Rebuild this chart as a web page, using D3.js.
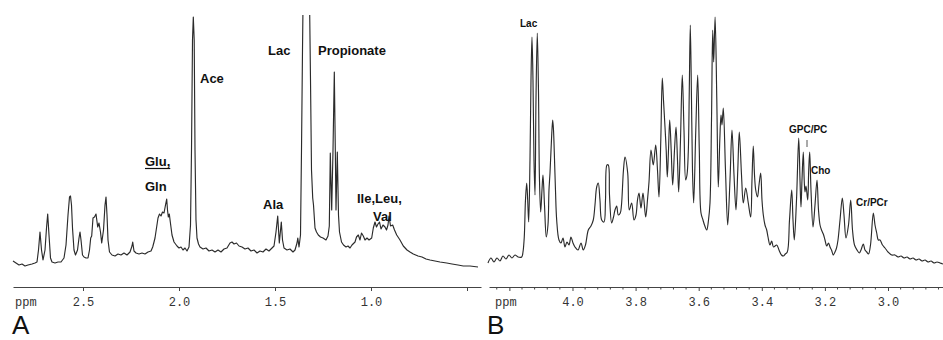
<!DOCTYPE html>
<html><head><meta charset="utf-8">
<script src="https://cdn.jsdelivr.net/npm/d3@7"></script>
<style>body{margin:0;background:#fff}svg{display:block}</style>
</head><body><svg id="c" width="943" height="340"></svg>
<script>
// ---------- Panel A spectrum (ppm, intensity) ----------
const ppmA=[2.8646,2.8490,2.8333,2.8177,2.8021,2.7865,2.7656,2.75,2.7396,2.7318,2.7240,2.7161,2.7083,2.6979,2.6901,2.6839,2.6771,2.6693,2.6615,2.6458,2.6302,2.6146,2.5990,2.5885,2.5781,2.5703,2.5651,2.5599,2.5547,2.5469,2.5391,2.5286,2.5208,2.5156,2.5104,2.5026,2.4948,2.4844,2.4740,2.4661,2.4599,2.4547,2.4479,2.4401,2.4323,2.4234,2.4167,2.4089,2.4026,2.3932,2.3854,2.3802,2.375,2.3698,2.3620,2.3490,2.3333,2.3177,2.3021,2.2865,2.2708,2.2552,2.2448,2.2411,2.2344,2.2240,2.2083,2.1927,2.1771,2.1615,2.1458,2.1370,2.1302,2.125,2.1172,2.1094,2.1016,2.0938,2.0859,2.0781,2.0703,2.0641,2.0599,2.0557,2.0505,2.0453,2.0365,2.0260,2.0104,2.0,1.9896,1.9792,1.9688,1.9583,1.9479,1.9401,1.9349,1.9297,1.9255,1.9208,1.9167,1.9115,1.9063,1.8984,1.8906,1.875,1.8594,1.8438,1.8281,1.8125,1.7969,1.7813,1.7656,1.75,1.7344,1.7240,1.7135,1.7005,1.6875,1.6719,1.6563,1.6406,1.625,1.6094,1.5938,1.5781,1.5625,1.5469,1.5313,1.5156,1.5052,1.4948,1.4859,1.4776,1.4672,1.4609,1.4531,1.4375,1.4219,1.4063,1.3958,1.3854,1.3813,1.375,1.3672,1.3620,1.3568,1.3526,1.3370,1.3214,1.3151,1.3099,1.3036,1.2995,1.2917,1.2839,1.2745,1.2630,1.25,1.2344,1.2240,1.2172,1.2120,1.2047,1.1979,1.1911,1.1859,1.1823,1.1755,1.1693,1.1641,1.1536,1.1432,1.1302,1.1198,1.1094,1.0990,1.0833,1.0755,1.0661,1.0573,1.0495,1.0401,1.0313,1.0208,1.0104,0.9964,0.9880,0.9792,0.9714,0.9635,0.9557,0.9479,0.9375,0.9271,0.9193,0.9115,0.9063,0.8984,0.8870,0.8776,0.8661,0.8490,0.8318,0.8125,0.7969,0.7797,0.7552,0.7344,0.7135,0.6927,0.6667,0.6406,0.6057,0.5781,0.5469,0.5193,0.4844,0.4427];
const intA=[26,24,22,23,21,22,23,24,25,37,55,37,27,37,59,73,52,29,25,24,25,25,29,42,72,90,91,82,59,37,32,37,49,55,47,32,30,29,29,37,49,51,69,70,73,60,64,55,44,57,82,90,72,47,35,32,31,33,32,34,32,35,41,45,36,34,33,34,33,35,36,40,45,49,59,69,73,71,75,74,82,88,77,70,73,65,52,45,41,39,40,37,39,36,40,62,137,247,270,247,137,67,49,43,40,38,39,36,37,35,37,35,38,39,44,45,43,44,41,40,38,39,36,37,34,36,35,38,36,39,41,55,71,44,65,47,39,37,38,35,37,44,49,40,52,137,237,307,282,307,207,117,89,82,59,55,52,50,49,47,51,61,134,77,137,215,137,77,135,72,55,45,42,40,41,39,42,45,50,52,47,54,51,47,49,47,49,59,65,60,63,65,58,62,60,57,62,71,61,62,57,52,47,41,37,35,33,31,30,28,27,26,25,24,23,22,21,21,20];

// ---------- Panel B spectrum (ppm, intensity) ----------
const ppmB=[4.2678,4.2583,4.2488,4.2393,4.2298,4.2203,4.2108,4.2013,4.1918,4.1822,4.1727,4.1610,4.1569,4.1528,4.1490,4.1452,4.1420,4.1388,4.1347,4.1315,4.1284,4.1252,4.1220,4.1188,4.1157,4.1116,4.1078,4.1046,4.1008,4.0967,4.0935,4.0887,4.0830,4.0777,4.0745,4.0713,4.0666,4.0628,4.0602,4.0577,4.0539,4.0501,4.0428,4.0365,4.0301,4.0238,4.0174,4.0111,4.0048,3.9984,3.9921,3.9826,3.9731,3.9658,3.9588,3.9499,3.9414,3.9341,3.9287,3.9233,3.9183,3.9129,3.9075,3.9002,3.8954,3.8907,3.8865,3.8827,3.8758,3.8700,3.8653,3.8599,3.8548,3.8485,3.8447,3.8384,3.8336,3.8250,3.8200,3.8124,3.8051,3.7987,3.7940,3.7892,3.7829,3.7765,3.7680,3.7623,3.7575,3.7512,3.7439,3.7363,3.7306,3.7258,3.7201,3.7154,3.7116,3.7068,3.7030,3.6995,3.6957,3.6919,3.6872,3.6824,3.6767,3.6719,3.6672,3.6634,3.6577,3.6520,3.6466,3.6412,3.6371,3.6330,3.6298,3.6266,3.6228,3.6197,3.6159,3.6092,3.6032,3.5981,3.5927,3.5864,3.5816,3.5746,3.5689,3.5642,3.5594,3.5556,3.5525,3.5480,3.5426,3.5379,3.5331,3.5293,3.5262,3.5220,3.5151,3.5081,3.5008,3.4945,3.4881,3.4818,3.4761,3.4713,3.4643,3.4586,3.4510,3.4428,3.4352,3.4311,3.4270,3.4231,3.4193,3.4136,3.4089,3.4035,3.3994,3.3952,3.3899,3.3845,3.3803,3.3740,3.3686,3.3629,3.3528,3.3455,3.3376,3.3319,3.3255,3.3192,3.3122,3.3052,3.3011,3.2970,3.2900,3.2830,3.2789,3.2758,3.2726,3.2685,3.2656,3.2631,3.2599,3.2545,3.2513,3.2482,3.2441,3.2377,3.2314,3.2250,3.2203,3.2155,3.2108,3.2051,3.1997,3.1943,3.1886,3.1838,3.1791,3.1734,3.1680,3.1632,3.1585,3.1521,3.1448,3.1395,3.1331,3.1252,3.1182,3.1125,3.1062,3.0983,3.0910,3.0856,3.0783,3.0729,3.0675,3.0618,3.0555,3.0466,3.0412,3.0358,3.0308,3.0254,3.0174,3.0095,3.0,2.9883,2.9778,2.9683,2.9588,2.9493,2.9398,2.9303,2.9208,2.9113,2.9017,2.8922,2.8827,2.8732,2.8637,2.8542,2.8447,2.8352,2.8257];
const intB=[24,29,25,29,26,31,28,32,29,32,30,30,35,50,87,104,87,65,127,207,250,207,127,92,187,254,197,107,75,97,112,82,50,62,97,114,147,167,157,135,97,67,47,44,49,40,45,42,50,44,40,37,44,37,42,57,61,67,82,100,104,87,67,65,87,122,122,92,64,70,77,81,72,74,82,117,130,114,77,84,67,72,87,94,79,94,70,87,105,137,122,142,117,90,147,209,187,160,137,110,137,167,137,102,137,160,127,95,147,212,157,107,112,135,197,262,187,117,84,157,212,137,74,67,62,57,67,84,167,257,225,270,187,100,147,172,162,179,117,62,107,157,112,77,117,155,112,84,99,84,70,107,141,112,97,90,102,114,87,72,62,57,50,42,46,40,42,37,32,31,33,35,67,97,67,47,87,149,107,80,107,135,107,95,101,87,117,135,97,60,82,107,77,62,57,53,47,41,44,40,37,32,35,39,47,67,89,72,49,62,87,57,42,37,34,37,43,37,35,33,42,74,62,54,47,47,42,39,35,32,32,30,31,29,30,28,29,27,28,26,27,25,26,24,25,24,23];

// ---------- Axis ticks ----------
const ticksA=[2.5,2.0,1.5,1.0,0.5];
const tickLabelsA=["2.5","2.0","1.5","1.0",""];
const ticksB=[4.2,4.0,3.8,3.6,3.4,3.2,3.0];
const tickLabelsB=["","4.0","3.8","3.6","3.4","3.2","3.0"];
const minorStepB=0.04;

// ---------- Peak annotations ----------
const annotTextA=["Ace","Glu,","Gln","Lac","Propionate","Ala","Ile,Leu,","Val"];
const annotPpmA=[1.8906,2.1771,2.1771,1.5365,1.2760,1.5625,1.0729,0.9896];
const annotIntA=[204,121,96,232,232,78,84,66];
const annotTextB=["Lac","GPC/PC","Cho","Cr/PCr"];
const annotPpmB=[4.1664,3.3138,3.2441,3.1013];
const annotIntB=[260,154,113,81];

const svg=d3.select("#c");
const W=943,H=340;
const axisY=287, topY=15;
const y=d3.scaleLinear().domain([0,272]).range([axisY,topY]);
const xA=d3.scaleLinear().domain([2.8646,0.4271]).range([13,481]);
const xB=d3.scaleLinear().domain([4.2646,2.8257]).range([489,943]);

const defs=svg.append("defs");
defs.append("clipPath").attr("id","clipA").append("rect").attr("x",0).attr("y",topY).attr("width",W).attr("height",H-topY);

const ink="#2b2b2b";
function spectrum(xs,ppm,vals,curve){
  const data=ppm.map((p,i)=>[p,vals[i]]);
  const line=d3.line().x(d=>xs(d[0])).y(d=>y(d[1])).curve(curve);
  svg.append("path").datum(data).attr("d",line)
    .attr("fill","none").attr("stroke",ink).attr("stroke-width",1.15).attr("stroke-linejoin","round")
    .attr("clip-path","url(#clipA)");
}
spectrum(xA,ppmA,intA,d3.curveLinear);
spectrum(xB,ppmB,intB,d3.curveCatmullRom.alpha(0.5));

function drawAxis(xs,ticks,labels){
  const ax=d3.axisBottom(xs).tickValues(ticks).tickSizeInner(4).tickSizeOuter(0).tickPadding(6.5)
    .tickFormat((d,i)=>labels[i]);
  const g=svg.append("g").attr("transform",`translate(0,${axisY})`).call(ax);
  g.select(".domain").attr("stroke","#444").attr("stroke-width",1);
  g.selectAll(".tick line").attr("stroke","#444");
  g.selectAll(".tick text").attr("font-family","'Liberation Mono','DejaVu Sans Mono',monospace")
    .attr("font-size",12).attr("fill","#333");
  return g;
}
drawAxis(xA,ticksA,tickLabelsA);
drawAxis(xB,ticksB,tickLabelsB);
// minor ticks on B
const minorB=d3.range(4.24,2.83,-minorStepB).filter(v=>!ticksB.some(t=>Math.abs(t-v)<1e-6));
svg.append("g").selectAll("line").data(minorB).join("line")
  .attr("x1",d=>xB(d)).attr("x2",d=>xB(d)).attr("y1",axisY).attr("y2",axisY+2.5)
  .attr("stroke","#444");

// ppm labels
const mono="'Liberation Mono','DejaVu Sans Mono',monospace";
svg.append("text").attr("x",xA.range()[0]+2).attr("y",306).text("ppm")
  .attr("font-family",mono).attr("font-size",12).attr("fill","#333");
svg.append("text").attr("x",xB.range()[0]+6).attr("y",306).text("ppm")
  .attr("font-family",mono).attr("font-size",12).attr("fill","#333");

// panel letters
svg.append("text").attr("x",12).attr("y",334).text("A")
  .attr("font-family","'Liberation Sans',Arial,sans-serif").attr("font-size",26).attr("fill","#111");
svg.append("text").attr("x",487).attr("y",334).text("B")
  .attr("font-family","'Liberation Sans',Arial,sans-serif").attr("font-size",26).attr("fill","#111");

// annotations
const fam="'Liberation Sans',Arial,Helvetica,sans-serif";
annotTextA.forEach((t,i)=>{
  const tx=svg.append("text").attr("x",xA(annotPpmA[i])).attr("y",y(annotIntA[i])).text(t)
    .attr("font-family",fam).attr("font-weight","bold").attr("font-size",13).attr("fill","#111");
  if(t==="Glu,"){
    const w=tx.node().getComputedTextLength();
    const x0=xA(annotPpmA[i]);
    svg.append("line").attr("x1",x0).attr("x2",x0+w).attr("y1",y(annotIntA[i])+2.5).attr("y2",y(annotIntA[i])+2.5)
      .attr("stroke","#111").attr("stroke-width",1.2);
  }
});
annotTextB.forEach((t,i)=>{
  svg.append("text").attr("x",xB(annotPpmB[i])).attr("y",y(annotIntB[i])).text(t)
    .attr("font-family",fam).attr("font-weight","bold").attr("font-size",10).attr("fill","#111");
});
// small leader dash under GPC/PC
svg.append("line").attr("x1",xB(3.2567)).attr("x2",xB(3.2567)).attr("y1",y(147)).attr("y2",y(140))
  .attr("stroke","#555").attr("stroke-width",1);
</script>
</body></html>
